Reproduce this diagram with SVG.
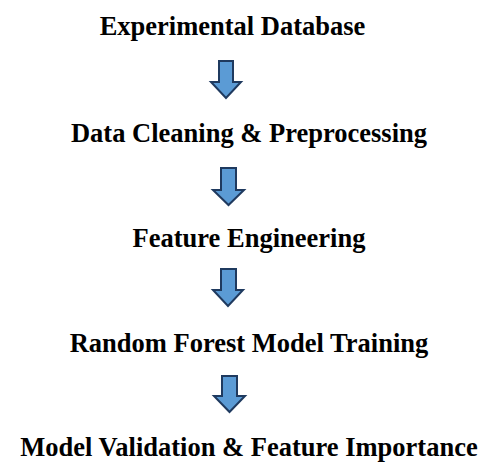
<svg xmlns="http://www.w3.org/2000/svg" width="486" height="462" viewBox="0 0 486 462">
<style>
.t{font-family:"Liberation Serif","Times New Roman",serif;font-weight:bold;font-size:26.5px;fill:#000;text-anchor:middle}
.a{fill:#5B9BD5;stroke:#1F3A5F;stroke-width:2;stroke-linejoin:miter}
</style>
<rect width="486" height="462" fill="#fff"/>
<g id="n1"><text class="t" x="232.5" y="35">Experimental Database</text></g>
<g id="n2"><text class="t" x="249" y="142">Data Cleaning &amp; Preprocessing</text></g>
<g id="n3"><text class="t" x="249" y="247">Feature Engineering</text></g>
<g id="n4"><text class="t" x="249" y="352">Random Forest Model Training</text></g>
<g id="n5"><text class="t" x="249" y="456">Model Validation &amp; Feature Importance</text></g>
<g id="connectors">
<path class="a" d="M219 61 H233 V82 H241 L226 98 L211 82 H219 Z"/>
<path class="a" d="M221 168 H236 V190 H244 L228.5 205 L213 190 H221 Z"/>
<path class="a" d="M221 269 H236 V290 H243 L228 306 L213 290 H221 Z"/>
<path class="a" d="M222 376 H237 V396 H245 L229.5 412 L214 396 H222 Z"/>
</g>
</svg>
